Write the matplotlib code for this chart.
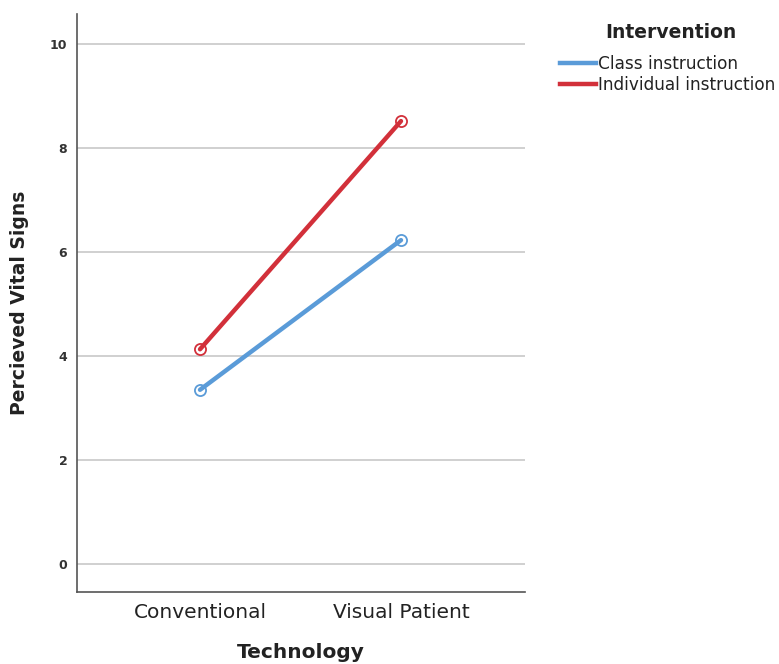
import matplotlib
matplotlib.use("Agg")
import matplotlib.pyplot as plt
from matplotlib.lines import Line2D

categories = ["Conventional", "Visual Patient"]
series_names = ["Class instruction", "Individual instruction"]
class_vals = [3.35, 6.23]
indiv_vals = [4.13, 8.52]
yticks = [0, 2, 4, 6, 8, 10]
colors = ["#5a9bd8", "#d2303a"]

W, H = 779, 664
fig = plt.figure(figsize=(W / 100, H / 100), dpi=100)
ax = fig.add_axes([77 / W, 1 - 592 / H, 448 / W, 578 / H])

x = list(range(len(categories)))
for vals, c in zip([class_vals, indiv_vals], colors):
    ax.plot(x, vals, color=c, lw=3.2, zorder=3, solid_capstyle="round")
    ax.plot(x, vals, ls="none", marker="o", ms=8, mfc="none", mec=c, mew=1.3, zorder=4)

ax.set_xlim(-0.612, 1.617)
ax.set_ylim(-0.54, 10.58)
ax.set_yticks(yticks)
ax.set_yticklabels([str(t) for t in yticks], fontsize=9, fontweight="bold", color="#333333")
ax.set_xticks(x)
ax.set_xticklabels(categories, fontsize=14.5, color="#222222")
ax.tick_params(axis="both", length=0)
ax.tick_params(axis="y", pad=7)
ax.tick_params(axis="x", pad=8)
for t in yticks:
    ax.axhline(t, color="#c8c8c8", lw=1.2, zorder=1)
for s in ["top", "right"]:
    ax.spines[s].set_visible(False)
for s in ["left", "bottom"]:
    ax.spines[s].set_color("#555555")
    ax.spines[s].set_linewidth(1.2)

ax.set_ylabel("Percieved Vital Signs", fontsize=13.5, fontweight="bold", color="#222222")
ax.yaxis.set_label_coords((20 - 77) / 448, 0.5)
ax.set_xlabel("Technology", fontsize=14.5, fontweight="bold", color="#222222")
ax.xaxis.set_label_coords(0.5, -(652 - 592) / 578)
ax.xaxis.label.set_va("center")
ax.yaxis.label.set_va("center")

fig.text(671 / W, 1 - 33 / H, "Intervention", fontsize=13.5, fontweight="bold",
         color="#222222", ha="center", va="center")
handles = [Line2D([0], [0], color=c, lw=3.2) for c in colors]
leg = fig.legend(handles, series_names, loc="upper left", bbox_to_anchor=(560 / W, 1 - 55 / H),
                 frameon=False, fontsize=12.2, borderpad=0, borderaxespad=0,
                 handlelength=2.1, handletextpad=0.15, labelspacing=0.2)
for t in leg.get_texts():
    t.set_color("#222222")

fig.savefig("out.png", dpi=100)
